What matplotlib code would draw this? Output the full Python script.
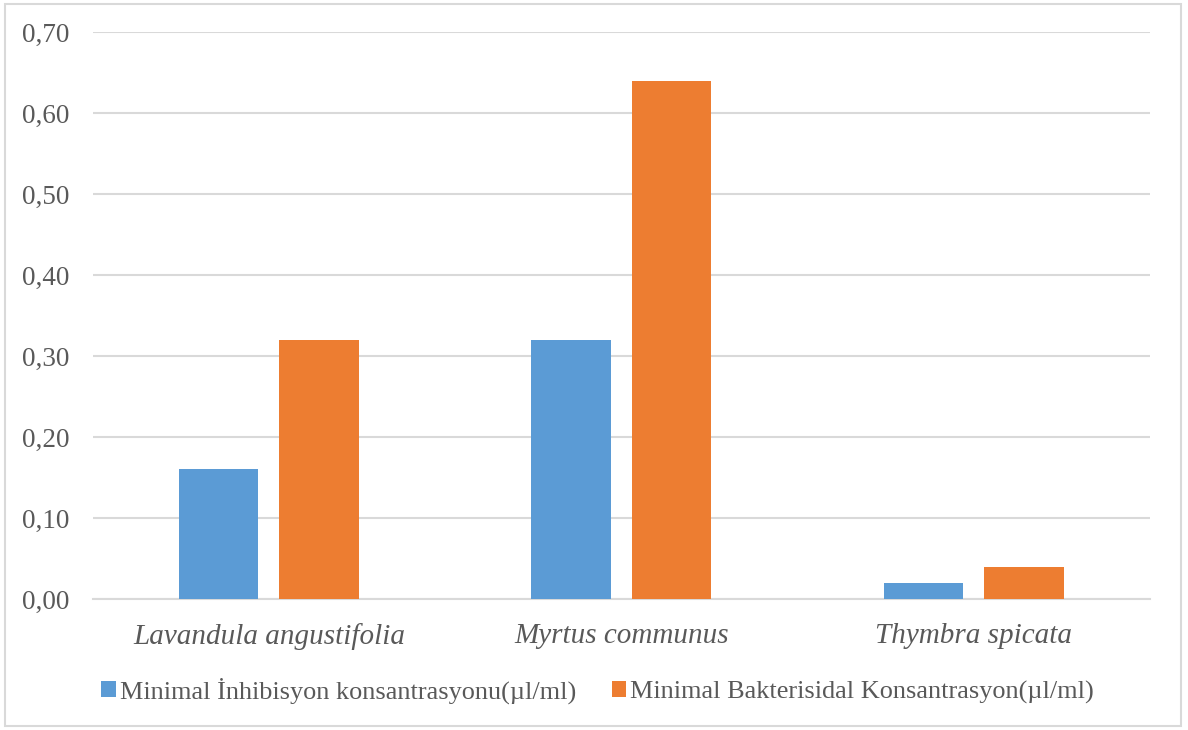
import numpy as np
import matplotlib.pyplot as plt
from matplotlib.patches import Rectangle

plt.rcParams['font.family'] = ['Liberation Serif', 'DejaVu Serif']

# Species and concentrations (µl/ml)
species = ["Lavandula angustifolia", "Myrtus communus", "Thymbra spicata"]
mic = [0.16, 0.32, 0.02]
mbc = [0.32, 0.64, 0.04]
series_names = ["Minimal İnhibisyon konsantrasyonu(µl/ml)",
                "Minimal Bakterisidal Konsantrasyon(µl/ml)"]
yticks = [0.0, 0.1, 0.2, 0.3, 0.4, 0.5, 0.6, 0.7]

blue = "#5B9BD5"
orange = "#ED7D31"
text_col = "#595959"
grid_col = "#d9d9d9"

fig = plt.figure(figsize=(11.88, 7.3), dpi=100)
ax = fig.add_axes([0.078, 0.1795, 0.89, 0.7765])

x = np.arange(len(species))
w = 0.225
off = 0.1425
ax.bar(x - off, mic, w, color=blue, label=series_names[0], zorder=3)
ax.bar(x + off, mbc, w, color=orange, label=series_names[1], zorder=3)

ax.set_xlim(-0.5, 2.5)
ax.set_ylim(0, 0.7)
ax.set_yticks(yticks)
ax.set_yticklabels([f"{v:.2f}".replace(".", ",") for v in yticks],
                   fontsize=19.5, color=text_col)
ax.set_xticks(x)
ax.set_xticklabels(species, fontsize=21, style='italic', color=text_col)
ax.tick_params(axis='y', length=0, pad=16.5)
ax.tick_params(axis='x', length=0, pad=17.5)
ax.grid(axis='y', color=grid_col, linewidth=1.5, zorder=0)
for s in ['top', 'right', 'left']:
    ax.spines[s].set_visible(False)
ax.spines['bottom'].set_color(grid_col)
ax.spines['bottom'].set_linewidth(1.5)

leg = fig.legend(loc='center', bbox_to_anchor=(0.503, 0.054), ncol=2,
                 frameon=False, fontsize=18.9, handlelength=0.55, handleheight=0.55,
                 handletextpad=0.15, columnspacing=1.35, labelcolor=text_col)

# light outer frame
fig.patches.append(Rectangle((5 / 1188, 4 / 730), 1176 / 1188, 722 / 730,
                             transform=fig.transFigure, fill=False,
                             edgecolor=grid_col, linewidth=1.5))

fig.savefig("out.png", dpi=100)
